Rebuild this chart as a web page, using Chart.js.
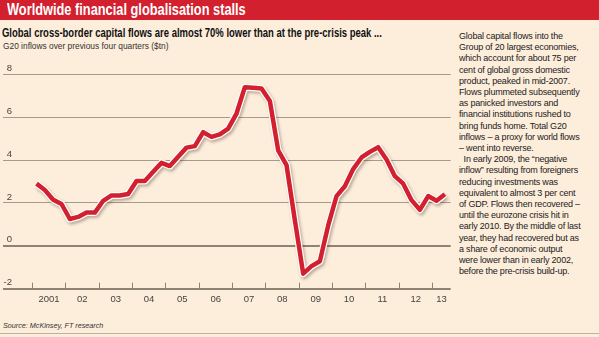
<!DOCTYPE html>
<html>
<head>
<meta charset="utf-8">
<script src="https://cdn.jsdelivr.net/npm/chart.js@4"></script>
<style>
  body { margin: 0; width: 599px; height: 337px; background: #fdeddb; position: relative; overflow: hidden;
         font-family: 'Liberation Sans', Arial, sans-serif; color: #222; }
  #bar { position: absolute; left: 0; top: 0; width: 599px; height: 20px; background: #d3202f; }
  .squeeze { transform-origin: 0 0; white-space: nowrap; position: absolute; }
  #title { left: 7px; top: 1px; color: #fff; font-weight: bold; font-size: 16px; transform: scaleX(0.8); }
  #sub { left: 2px; top: 26px; font-weight: bold; font-size: 12px; color: #111; transform: scaleX(0.79); }
  #units { left: 3px; top: 40px; font-size: 9.5px; color: #333; transform: scaleX(0.88); }
  #notes { position: absolute; left: 459px; top: 31px;
           font-size: 9px; line-height: 11.2px; color: #222; white-space: nowrap; letter-spacing: -0.2px; }
  #source { left: 3px; top: 321px; font-size: 8px; font-style: italic; color: #333; transform: scaleX(0.9); }
  #rule { position: absolute; left: 0; top: 333px; width: 599px; height: 1px; background: #bdb3a3; }
  #wrap { position: absolute; left: 0; top: 56px; width: 456px; height: 254px; }
</style>
</head>
<body>
<div id="bar"></div>
<div id="title" class="squeeze">Worldwide financial globalisation stalls</div>
<div id="sub" class="squeeze">Global cross-border capital flows are almost 70% lower than at the pre-crisis peak ...</div>
<div id="units" class="squeeze">G20 inflows over previous four quarters ($tn)</div>
<div id="notes">Global capital flows into the<br>Group of 20 largest economies,<br>which account for about 75 per<br>cent of global gross domestic<br>product, peaked in mid-2007.<br>Flows plummeted subsequently<br>as panicked investors and<br>financial institutions rushed to<br>bring funds home. Total G20<br>inflows – a proxy for world flows<br>– went into reverse.<br>&nbsp;&nbsp;In early 2009, the “negative<br>inflow” resulting from foreigners<br>reducing investments was<br>equivalent to almost 3 per cent<br>of GDP. Flows then recovered –<br>until the eurozone crisis hit in<br>early 2010. By the middle of last<br>year, they had recovered but as<br>a share of economic output<br>were lower than in early 2002,<br>before the pre-crisis build-up.</div>
<div id="source" class="squeeze">Source: McKinsey, FT research</div>
<div id="rule"></div>
<div id="wrap"><canvas id="chart" width="456" height="254"></canvas></div>
<script>
// quarterly G20 inflows, previous four quarters ($tn)
const quarters = [
  '2001Q1','2001Q2','2001Q3','2001Q4','2002Q1','2002Q2','2002Q3','2002Q4',
  '2003Q1','2003Q2','2003Q3','2003Q4','2004Q1','2004Q2','2004Q3','2004Q4',
  '2005Q1','2005Q2','2005Q3','2005Q4','2006Q1','2006Q2','2006Q3','2006Q4',
  '2007Q1','2007Q2','2007Q3','2007Q4','2008Q1','2008Q2','2008Q3','2008Q4',
  '2009Q1','2009Q2','2009Q3','2009Q4','2010Q1','2010Q2','2010Q3','2010Q4',
  '2011Q1','2011Q2','2011Q3','2011Q4','2012Q1','2012Q2','2012Q3','2012Q4',
  '2013Q1','2013Q2'
];
const inflows = [
  2.90, 2.60, 2.15, 1.95,   1.25, 1.35, 1.55, 1.55,
  2.10, 2.35, 2.35, 2.42,   3.02, 3.02, 3.45, 3.87,
  3.72, 4.15, 4.58, 4.65,   5.30, 5.08, 5.20, 5.47,
  6.17, 7.40, 7.37, 7.34,   6.76, 4.45, 3.76, 1.20,
  -1.30, -0.95, -0.72, 0.95, 2.32, 2.78, 3.58, 4.12,
  4.38, 4.60, 4.03, 3.25,   2.90, 2.13, 1.68, 2.32,
  2.10, 2.41
];
const years = [2001, 2002, 2003, 2004, 2005, 2006, 2007, 2008, 2009, 2010, 2011, 2012, 2013];
const yearLabels = ['2001','02','03','04','05','06','07','08','09','10','11','12','13'];
const yTicks = [-2, 0, 2, 4, 6, 8];

const X_MIN = 2000.42, X_MAX = 2013.55;
const GRID = '#a59b8b', DARK = '#8d8372', RED = '#d3202f';

// quarter -> mid-quarter position on the year axis
const points = quarters.map((q, i) => ({
  x: Number(q.slice(0, 4)) + (Number(q.slice(5)) - 0.5) / 4,
  y: inflows[i]
}));

// soft drop shadow under the white casing only
const lineShadow = {
  id: 'lineShadow',
  beforeDatasetDraw(chart, args) {
    if (args.index !== 0) return;
    const c = chart.ctx;
    c.save();
    c.shadowColor = 'rgba(70,50,30,0.35)';
    c.shadowBlur = 3;
    c.shadowOffsetX = 1.5;
    c.shadowOffsetY = 2;
  },
  afterDatasetDraw(chart, args) {
    if (args.index === 0) chart.ctx.restore();
  }
};

Chart.defaults.font.family = "'Liberation Sans', Arial, sans-serif";

new Chart(document.getElementById('chart').getContext('2d'), {
  type: 'line',
  data: {
    datasets: [
      { data: points, order: 2, borderColor: '#ffffff', borderWidth: 7, pointRadius: 0, tension: 0,
        borderJoinStyle: 'round', clip: false },
      { data: points, order: 1, borderColor: RED, borderWidth: 4.5, pointRadius: 0, tension: 0,
        borderJoinStyle: 'round', clip: false }
    ]
  },
  options: {
    responsive: false,
    animation: false,
    devicePixelRatio: 1,
    layout: { padding: { left: 3, right: 5.3, top: 18.3, bottom: 1.3 } },
    plugins: { legend: { display: false }, tooltip: { enabled: false } },
    scales: {
      x: {
        type: 'linear', position: 'bottom', min: X_MIN, max: X_MAX, weight: 0,
        afterBuildTicks: s => { s.ticks = years.map(v => ({ value: v })); },
        afterFit: s => { s.height = 0; },
        ticks: { display: false },
        grid: { drawOnChartArea: false, drawTicks: true, tickLength: -6, color: DARK, lineWidth: 1 },
        border: { display: false }
      },
      x2: {
        type: 'linear', position: 'bottom', min: X_MIN, max: X_MAX, weight: 1,
        afterBuildTicks: s => {
          s.ticks = years.map(v => ({ value: (v + Math.min(v + 1, X_MAX)) / 2 }));
        },
        afterFit: s => { s.height = 20; },
        ticks: {
          padding: -3, color: '#444', font: { size: 9.5 }, maxRotation: 0, autoSkip: false,
          callback: (v, i) => yearLabels[i]
        },
        grid: { display: false },
        border: { display: false }
      },
      y: {
        min: -2, max: 8,
        afterBuildTicks: s => { s.ticks = yTicks.map(v => ({ value: v })); },
        afterFit: s => { s.width = 10; },
        ticks: { padding: -9, crossAlign: 'near', labelOffset: -6, color: '#444', font: { size: 9.5 },
                 callback: v => String(v) },
        grid: {
          color: c => (c.tick && c.tick.value <= 0) ? DARK : GRID,
          lineWidth: c => (c.tick && c.tick.value <= 0) ? 2 : 1,
          tickLength: 10
        },
        border: { display: false }
      }
    }
  },
  plugins: [lineShadow]
});
</script>
</body>
</html>
